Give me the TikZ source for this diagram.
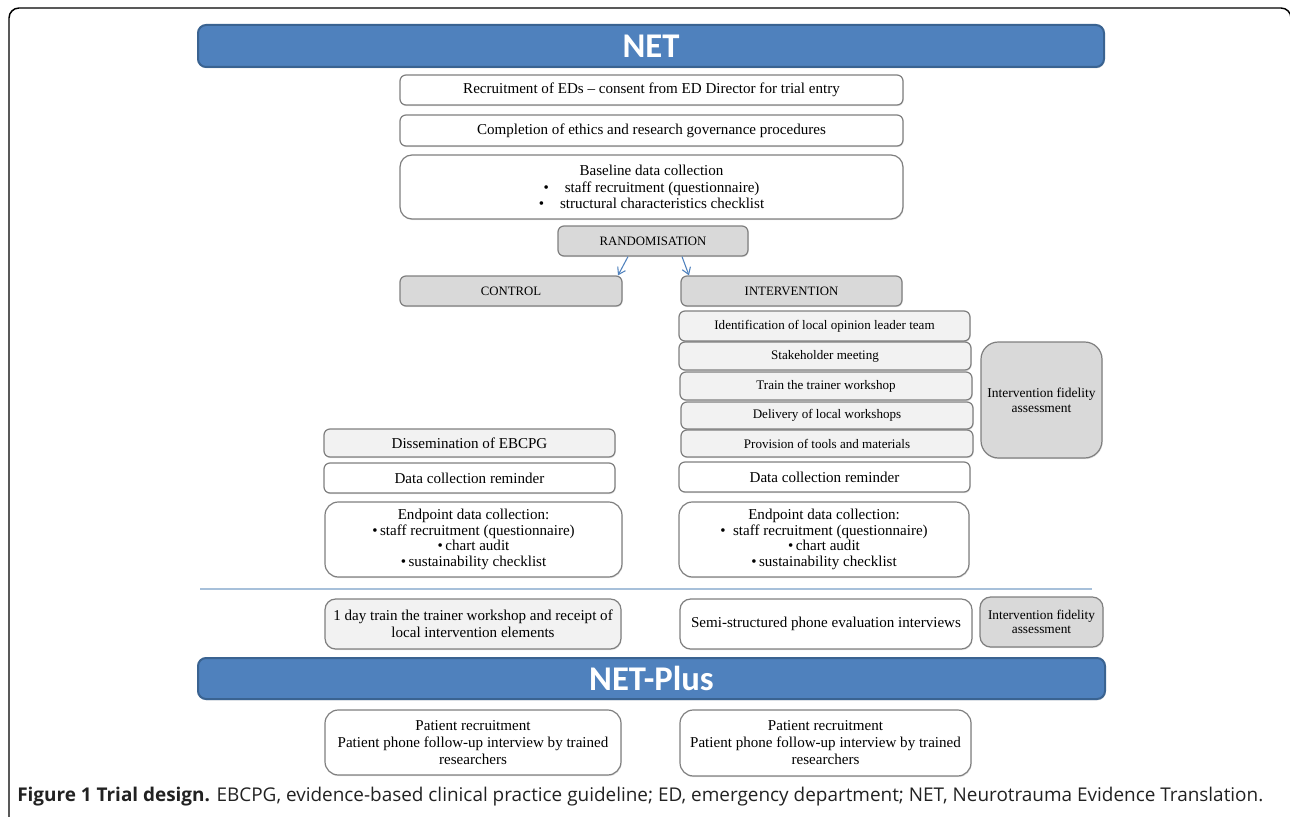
\documentclass[tikz,border=0pt]{standalone}
\usepackage{fontspec}
\setmainfont{Liberation Serif}
\newfontfamily\capfont{Open Sans}
\newfontfamily\banfont{Carlito}
\usetikzlibrary{arrows.meta,shadows}
\definecolor{banblue}{HTML}{4F81BD}
\definecolor{banedge}{HTML}{3A6391}
\definecolor{boxedge}{HTML}{7F7F7F}
\definecolor{greyfill}{HTML}{D9D9D9}
\definecolor{lightfill}{HTML}{F2F2F2}
\definecolor{sepline}{HTML}{A7C0DA}
\definecolor{captext}{HTML}{222222}
\begin{document}
\begin{tikzpicture}[x=0.75pt,y=-0.75pt,
 sz/.style 2 args={minimum width=#1*0.75pt, minimum height=#2*0.75pt},
 boxbase/.style={draw=boxedge, line width=0.9pt, rounded corners=4.5pt, inner sep=0pt, align=center,
   font=\fontsize{11.3}{12.2}\selectfont,
   drop shadow={shadow xshift=0.5pt, shadow yshift=-0.9pt, opacity=0.22}},
 wbox/.style={boxbase, fill=white},
 gbox/.style={boxbase, fill=greyfill},
 lbox/.style={boxbase, fill=lightfill},
 smalltxt/.style={font=\fontsize{9.8}{11.3}\selectfont},
 fidtxt/.style={font=\fontsize{10.1}{11.3}\selectfont},
 capstxt/.style={font=\fontsize{9.6}{11}\selectfont},
 endtxt/.style={font=\fontsize{11.3}{11.6}\selectfont},
 banner/.style={draw=banedge, line width=1.5pt, fill=banblue, rounded corners=6pt, text=white,
   inner sep=0pt, font=\banfont\bfseries\fontsize{26}{30}\selectfont,
   drop shadow={shadow xshift=0.5pt, shadow yshift=-1pt, opacity=0.25}},
 arr/.style={draw=banblue, line width=0.8pt, -{Straight Barb[length=5pt,width=6.5pt]}}
]
\useasboundingbox (0,0) rectangle (1290,817);
% outer frame
\draw[line width=1.1pt] (9,830) -- (9,18) arc[start angle=180,end angle=270,radius=10] -- (1281,8)
  arc[start angle=270,end angle=360,radius=10] -- (1291,830);

\node[banner, sz={906}{42}] (net) at (651,46) {NET};
\node[wbox, sz={503}{30}] (rec) at (651.5,90) {Recruitment of EDs -- consent from ED Director for trial entry};
\node[wbox, sz={503}{31}] (eth) at (651.5,130.5) {Completion of ethics and research governance procedures};
\node[wbox, sz={503}{64}, rounded corners=9pt] (base) at (651.5,187)
  {Baseline data collection\\ •\hspace{12pt}staff recruitment (questionnaire)\\ •\hspace{12pt}structural characteristics checklist};
\node[gbox, capstxt, sz={190}{30}] (rand) at (653,241) {RANDOMISATION};
\node[gbox, capstxt, sz={222}{30}] (ctrl) at (511,291) {CONTROL};
\node[gbox, capstxt, sz={221}{30}] (intv) at (791.5,291) {INTERVENTION};
\draw[arr] ([xshift=-25*0.75pt]rand.south) -- ([xshift=107*0.75pt]ctrl.north);
\draw[arr] ([xshift=29*0.75pt]rand.south) -- ([xshift=-102.5*0.75pt]intv.north);

\node[lbox, smalltxt, sz={291}{30}] (ident) at (824.5,326) {Identification of local opinion leader team};
\node[lbox, smalltxt, sz={292}{28}] (stake) at (825,356) {Stakeholder meeting};
\node[lbox, smalltxt, sz={292}{28}] (train) at (826,386) {Train the trainer workshop};
\node[lbox, smalltxt, sz={292}{27}] (deliv) at (827,415.5) {Delivery of local workshops};
\node[lbox, smalltxt, sz={292}{27}] (prov) at (827,443.5) {Provision of tools and materials};
\node[gbox, fidtxt, sz={121}{116}, rounded corners=13pt] (fid1) at (1041.5,400) {Intervention fidelity\\assessment};

\node[lbox, sz={291}{28}] (diss) at (469.5,443) {Dissemination of EBCPG};
\node[wbox, sz={291}{30}] (dcrL) at (469.5,478) {Data collection reminder};
\node[wbox, sz={291}{30}] (dcrR) at (824.5,477) {Data collection reminder};
\node[wbox, endtxt, sz={297}{75}, rounded corners=10pt] (endL) at (473.5,539.5)
  {Endpoint data collection:\\ •\,staff recruitment (questionnaire)\\ •\,chart audit\\ •\,sustainability checklist};
\node[wbox, endtxt, sz={290}{75}, rounded corners=10pt] (endR) at (824,539.5)
  {Endpoint data collection:\\ •\ \ staff recruitment (questionnaire)\\ •\,chart audit\\ •\,sustainability checklist};

\coordinate (sepL) at (200,589);
\coordinate (sepR) at (1092,589);
\draw[sepline, line width=1.6pt] (sepL) -- (sepR);

\node[lbox, sz={296}{50}, rounded corners=8pt, font=\fontsize{11.3}{12.8}\selectfont] (oneday) at (473,624)
  {1 day train the trainer workshop and receipt of\\local intervention elements};
\node[wbox, sz={292}{50}, rounded corners=8pt] (semi) at (826,624) {Semi-structured phone evaluation interviews};
\node[gbox, sz={123}{50}, rounded corners=8pt, font=\fontsize{10}{10}\selectfont] (fid2) at (1041.5,622) {Intervention fidelity\\assessment};

\node[banner, sz={907}{41}] (netplus) at (651.5,678.5) {NET-Plus};

\node[wbox, sz={296}{65}, rounded corners=10pt, font=\fontsize{11.3}{12.8}\selectfont] (patL) at (473,742.5)
  {Patient recruitment\\Patient phone follow-up interview by trained\\researchers};
\node[wbox, sz={291}{66}, rounded corners=10pt, font=\fontsize{11.3}{12.8}\selectfont] (patR) at (825.5,743)
  {Patient recruitment\\Patient phone follow-up interview by trained\\researchers};

\node[anchor=base west, inner sep=0pt, text=captext, font=\capfont\fontsize{14.2}{16}\selectfont] (cap) at (17,801)
  {\textbf{Figure 1 Trial design.} EBCPG, evidence-based clinical practice guideline; ED, emergency department; NET, Neurotrauma Evidence Translation.};
\end{tikzpicture}
\end{document}
